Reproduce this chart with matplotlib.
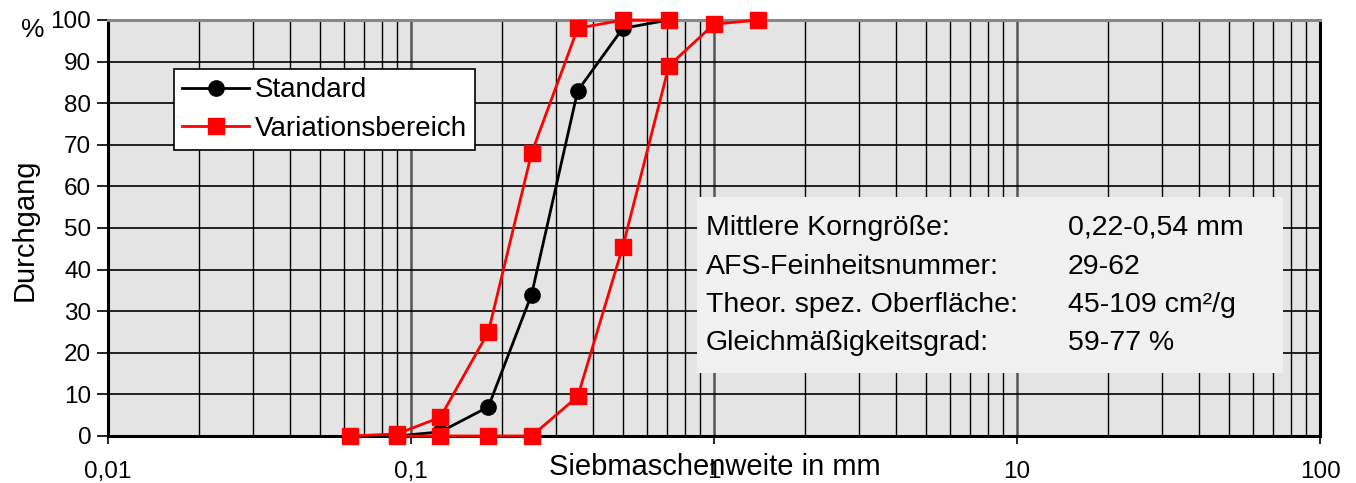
import matplotlib.pyplot as plt
from matplotlib.ticker import FixedLocator, NullFormatter
from matplotlib.patches import Rectangle

plt.rcParams['font.family'] = ['Liberation Sans', 'DejaVu Sans']

# sieve sizes in mm
std_x = [0.09, 0.125, 0.18, 0.25, 0.355, 0.5, 0.71]
std_y = [0, 1, 7, 34, 83, 98, 100]

fine_x = [0.063, 0.09, 0.125, 0.18, 0.25, 0.355, 0.5, 0.71]
fine_y = [0, 0.5, 4.5, 25, 68, 98, 100, 100]

coarse_x = [0.09, 0.125, 0.18, 0.25, 0.355, 0.5, 0.71, 1.0, 1.4]
coarse_y = [0, 0, 0, 0, 9.5, 45.5, 89, 99, 100]

info_names = ['Mittlere Korngröße:', 'AFS-Feinheitsnummer:',
              'Theor. spez. Oberfläche:', 'Gleichmäßigkeitsgrad:']
info_values = ['0,22-0,54 mm', '29-62', '45-109 cm²/g', '59-77 %']

x_ticks = [0.01, 0.1, 1, 10, 100]
x_labels = ['0,01', '0,1', '1', '10', '100']

fig = plt.figure(figsize=(13.56, 4.83), dpi=100)
ax = fig.add_axes([108/1356, 1 - 436/483, 1212/1356, 416/483])
ax.set_facecolor('#e4e4e4')

ax.set_xscale('log')
ax.set_xlim(0.01, 100)
ax.set_ylim(0, 100)

minors = [m * 10.0**e for e in range(-2, 2) for m in range(2, 10)]
ax.xaxis.set_minor_locator(FixedLocator(minors))
ax.xaxis.set_minor_formatter(NullFormatter())
ax.set_xticks(x_ticks)
ax.set_xticklabels(x_labels)
ax.set_yticks(range(0, 101, 10))

ax.grid(True, which='major', axis='x', color='#555555', lw=1.8, zorder=0)
ax.grid(True, which='minor', axis='x', color='black', lw=1.0, zorder=0)
ax.grid(True, which='major', axis='y', color='black', lw=1.2, zorder=0)
ax.set_axisbelow(True)

ax.tick_params(axis='x', which='minor', length=0)
ax.tick_params(axis='x', which='major', length=6, width=1.2, labelsize=17.5, pad=12)
ax.tick_params(axis='y', length=8, width=1.2, labelsize=17.5, pad=4)
for s in ax.spines.values():
    s.set_linewidth(2.2)
ax.spines['top'].set_color('#888888')

ax.plot(std_x, std_y, color='black', lw=2, marker='o', ms=11, label='Standard', zorder=3)
ax.plot(fine_x, fine_y, color='red', lw=2, marker='s', ms=11,
        label='Variationsbereich', zorder=4)
ax.plot(coarse_x, coarse_y, color='red', lw=2, marker='s', ms=11, zorder=4)
for ln in ax.lines:
    ln.set_clip_on(False)

leg = ax.legend(loc='upper left', bbox_to_anchor=(0.0545, 0.882), borderaxespad=0,
                fontsize=20, fancybox=False, framealpha=1, edgecolor='black',
                handlelength=2.4, handletextpad=0.2, borderpad=0.3, labelspacing=0.45)
leg.get_frame().set_linewidth(1.2)

ax.add_patch(Rectangle((0.486, 0.151), 0.4835, 0.424, transform=ax.transAxes,
                       facecolor='#f0f0f0', edgecolor='none', zorder=5))
rows_y = [228, 267, 305, 343]
for name, val, py in zip(info_names, info_values, rows_y):
    fy = (436 - py) / 416
    ax.text((706 - 108) / 1212, fy, name, transform=ax.transAxes, fontsize=20.5,
            va='center', ha='left', zorder=6)
    ax.text((1068 - 108) / 1212, fy, val, transform=ax.transAxes, fontsize=20.5,
            va='center', ha='left', zorder=6)

fig.text(715/1356, 1 - 467/483, 'Siebmaschenweite in mm', fontsize=21, ha='center', va='center')
fig.text(25/1356, 1 - 230/483, 'Durchgang', fontsize=21, rotation=90, ha='center', va='center')
fig.text(33/1356, 1 - 30/483, '%', fontsize=19, ha='center', va='center')

fig.savefig('out.png', dpi=100)
